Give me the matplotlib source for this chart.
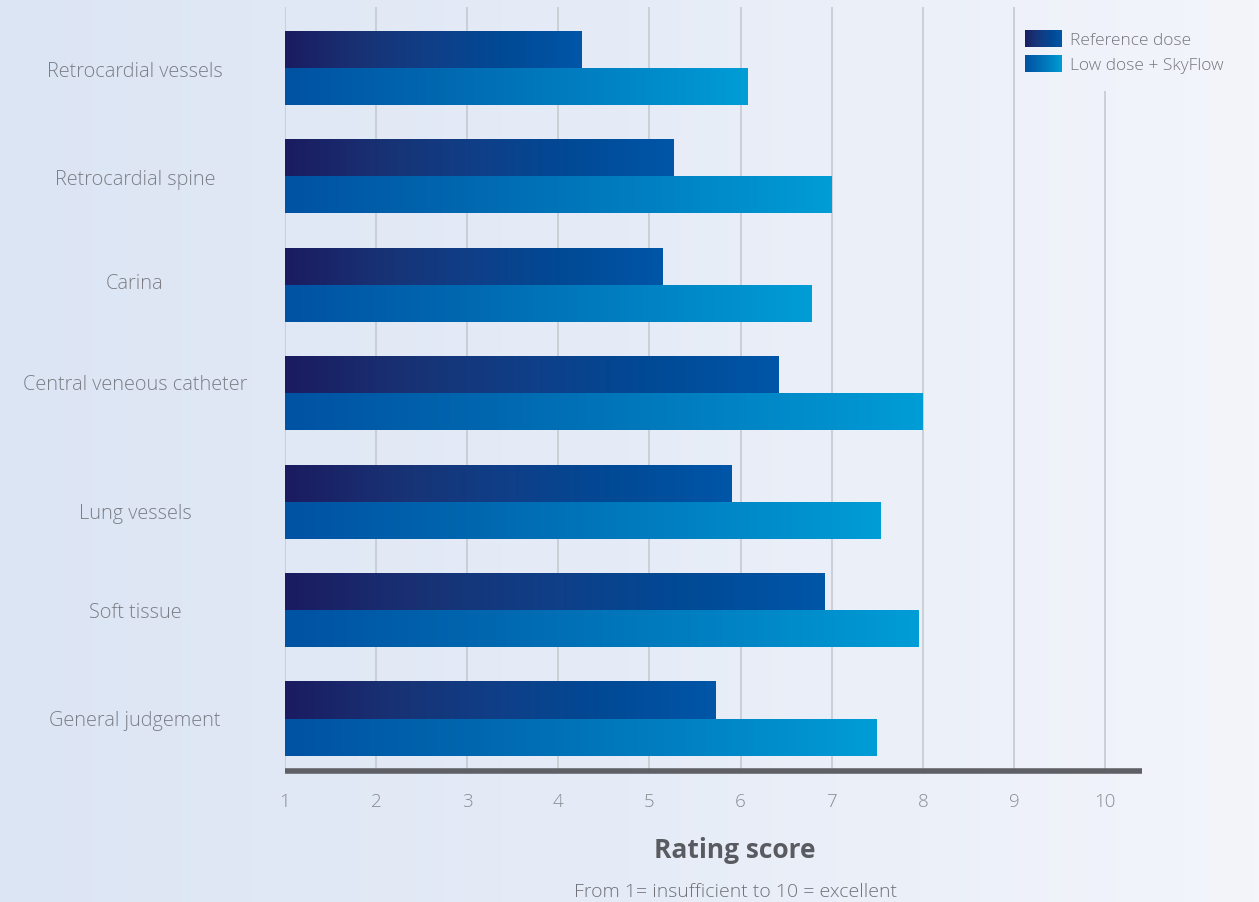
import numpy as np
import matplotlib
matplotlib.use("Agg")
import matplotlib.pyplot as plt
from matplotlib.colors import LinearSegmentedColormap

categories = ["Retrocardial vessels", "Retrocardial spine", "Carina",
              "Central veneous catheter", "Lung vessels", "Soft tissue",
              "General judgement"]
reference_dose = [4.25, 5.26, 5.14, 6.42, 5.90, 6.92, 5.73]
low_dose_skyflow = [6.08, 7.00, 6.78, 8.00, 7.54, 7.95, 7.49]
series_names = ["Reference dose", "Low dose + SkyFlow"]
tick_values = [1, 2, 3, 4, 5, 6, 7, 8, 9, 10]

# label vertical nudges (pixels) to match original layout
label_nudge = [1, 1, -4, -11, 9, 0, -1]

W, H = 1259, 903
fig = plt.figure(figsize=(W / 100, H / 100), dpi=100)

# background gradient
bg = fig.add_axes([0, 0, 1, 1], zorder=0)
bg_cmap = LinearSegmentedColormap.from_list("bg", ["#dce5f4", "#e6ecf7", "#f3f5fb"])
bg.imshow(np.linspace(0, 1, 256)[None, :], aspect="auto", cmap=bg_cmap,
          extent=[0, 1, 0, 1])
bg.set_axis_off()

cmap_ref = LinearSegmentedColormap.from_list(
    "ref", ["#1b1b60", "#183274", "#0f3f88", "#004a96", "#0056a8"])
cmap_low = LinearSegmentedColormap.from_list(
    "low", ["#0052a2", "#0068b0", "#0080c2", "#009dd6"])

x0, x1 = 285, 1142
ytop, ybot = 8, 772
ax = fig.add_axes([x0 / W, 1 - ybot / H, (x1 - x0) / W, (ybot - ytop) / H], zorder=1)
ax.patch.set_alpha(0)

spacing = 108.5
first_c = 69.5
xmin = 1.0
xmax = 1 + (x1 - x0) / ((1105 - 285) / 9)
ylo = (ytop - first_c) / spacing
yhi = (ybot - first_c) / spacing

# grid lines
for t in tick_values:
    top = ylo
    if t == 10:
        top = (92 - first_c) / spacing
    ax.plot([t, t], [yhi, top], color="#c9ccd3", lw=1.3, zorder=1,
            solid_capstyle="butt")

bh = 37.5 / spacing
grad = np.linspace(0, 1, 256)[None, :]
for i, (r, l) in enumerate(zip(reference_dose, low_dose_skyflow)):
    ax.imshow(grad, aspect="auto", cmap=cmap_ref, extent=[1, r, i, i - bh],
              zorder=2, interpolation="bilinear")
    ax.imshow(grad, aspect="auto", cmap=cmap_low, extent=[1, l, i + bh - 0.01, i - 0.005],
              zorder=2, interpolation="bilinear")
ax.set_xlim(xmin, xmax)
ax.set_ylim(yhi, ylo)

# axis line
ax.plot([xmin, xmax], [yhi - 0.003, yhi - 0.003], color="#5f6065", lw=4,
        solid_capstyle="butt", zorder=3, clip_on=False)

ax.set_axis_off()

font = "Open Sans"
# category labels
for i, c in enumerate(categories):
    ypix = first_c + 1.5 + i * spacing + label_nudge[i]
    fig.text(135 / W, 1 - ypix / H, c, ha="center", va="center",
             fontsize=14.3, color="#7b7e86", family=font, fontweight="light")

# tick labels
for t in tick_values:
    xp = x0 + (t - 1) * (1105 - 285) / 9
    fig.text(xp / W, 1 - 802 / H, str(t), ha="center", va="center",
             fontsize=13.5, color="#8a8c92", family=font, fontweight="light")

fig.text(735 / W, 1 - 851 / H, "Rating score", ha="center", va="center",
         fontsize=19, color="#5a5b60", family=font, fontweight="bold")
fig.text(735 / W, 1 - 892 / H, "From 1= insufficient to 10 = excellent",
         ha="center", va="center", fontsize=14, color="#6f7176", family=font,
         fontweight="light")

# legend
lg = fig.add_axes([0, 0, 1, 1], zorder=2)
lg.patch.set_alpha(0)
for k, (name, cm) in enumerate(zip(series_names, [cmap_ref, cmap_low])):
    yt = 31 + k * 25
    lg.imshow(grad, aspect="auto", cmap=cm, extent=[1025, 1062, yt + 17, yt],
              interpolation="bilinear")
    lg.text(1070, yt + 10, name, ha="left", va="center", fontsize=12.5,
            color="#75777d", family=font, fontweight="light")
lg.set_xlim(0, W)
lg.set_ylim(H, 0)
lg.set_axis_off()

fig.savefig("out.png", dpi=100)
